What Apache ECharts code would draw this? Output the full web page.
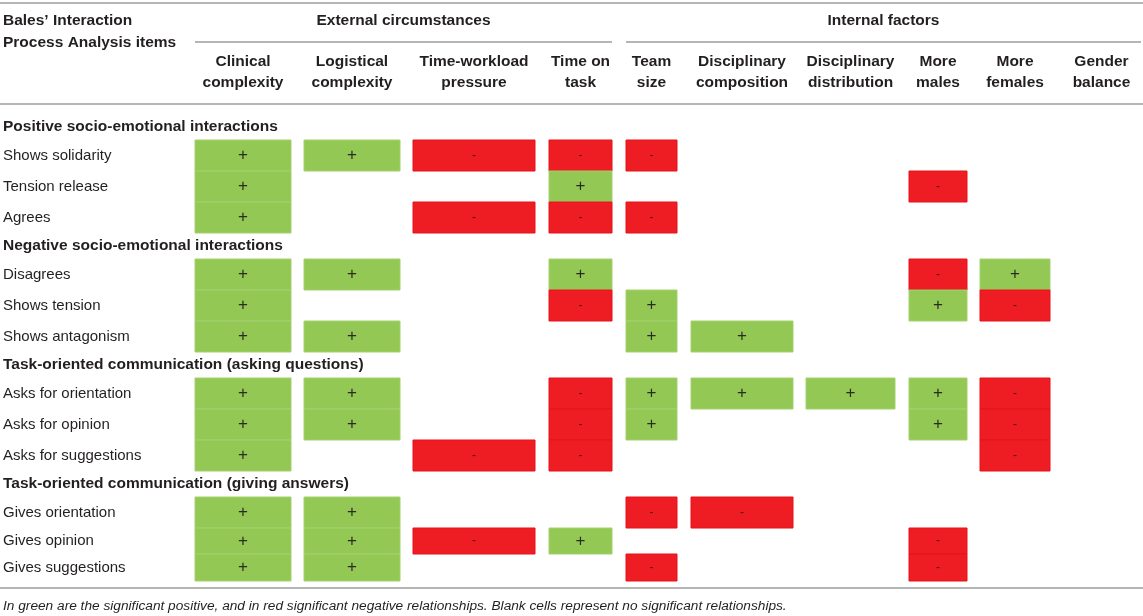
<!DOCTYPE html>
<html>
<head>
<meta charset="utf-8">
<script src="https://cdn.jsdelivr.net/npm/echarts@6/dist/echarts.min.js"></script>
<style>
  html, body { margin: 0; padding: 0; background: #fff; }
  #chart { width: 1143px; height: 616px; }
</style>
</head>
<body>
<div id="chart"></div>
<script>
// data
const columnNames = [
  ['Clinical', 'complexity'],
  ['Logistical', 'complexity'],
  ['Time-workload', 'pressure'],
  ['Time on', 'task'],
  ['Team', 'size'],
  ['Disciplinary', 'composition'],
  ['Disciplinary', 'distribution'],
  ['More', 'males'],
  ['More', 'females'],
  ['Gender', 'balance']
]
const columnGroups = ['External circumstances', 'Internal factors']

const rowGroups = [
  'Positive socio-emotional interactions',
  'Negative socio-emotional interactions',
  'Task-oriented communication (asking questions)',
  'Task-oriented communication (giving answers)'
]
const rowNames = [
  'Shows solidarity', 'Tension release', 'Agrees',
  'Disagrees', 'Shows tension', 'Shows antagonism',
  'Asks for orientation', 'Asks for opinion', 'Asks for suggestions',
  'Gives orientation', 'Gives opinion', 'Gives suggestions'
]
const rowGroupOf = [0, 0, 0, 1, 1, 1, 2, 2, 2, 3, 3, 3]

// 1 = significant positive, -1 = significant negative, 0 = blank
const signs = [
  [1, 1, -1, -1, -1, 0, 0, 0, 0, 0],
  [1, 0, 0, 1, 0, 0, 0, -1, 0, 0],
  [1, 0, -1, -1, -1, 0, 0, 0, 0, 0],
  [1, 1, 0, 1, 0, 0, 0, -1, 1, 0],
  [1, 0, 0, -1, 1, 0, 0, 1, -1, 0],
  [1, 1, 0, 0, 1, 1, 0, 0, 0, 0],
  [1, 1, 0, -1, 1, 1, 1, 1, -1, 0],
  [1, 1, 0, -1, 1, 0, 0, 1, -1, 0],
  [1, 0, -1, -1, 0, 0, 0, 0, -1, 0],
  [1, 1, 0, 0, -1, -1, 0, 0, 0, 0],
  [1, 1, -1, 1, 0, 0, 0, -1, 0, 0],
  [1, 1, 0, 0, -1, 0, 0, -1, 0, 0]
]

const titleLines = ['Bales\u2019 Interaction', 'Process Analysis items']
const footnote = 'In green are the significant positive, and in red significant negative relationships. Blank cells represent no significant relationships.'

// layout
const colLeft = [195, 304, 413, 549, 626, 691, 806, 909, 980, 1063]
const colRight = [291, 400, 535, 612, 677, 793, 895, 967, 1050, 1140]
const groupSpan = [[195, 612], [626, 1141]]
const tableTop = 104
const tableBottom = 588
const groupHeaderHeight = [36, 26, 26, 26]
const rowHeight = [31, 31, 31, 31, 31, 31, 31, 31, 31, 31, 26, 27]

const GREEN = '#92c853'
const RED = '#ee1d24'
const INK = '#231f20'
const RULE = '#b5b5b5'
const FONT = '"Liberation Sans", Arial, Helvetica, sans-serif'
const HEAD_FONT = 'bold 15.5px ' + FONT

// row top/bottom positions built from the layout
const rowTop = []
const rowBottom = []
const groupBottom = []
let cursor = tableTop
rowNames.forEach((name, i) => {
  const g = rowGroupOf[i]
  if (i === 0 || rowGroupOf[i - 1] !== g) {
    cursor += groupHeaderHeight[g]
    groupBottom[g] = cursor
  }
  rowTop.push(cursor)
  cursor += rowHeight[i]
  rowBottom.push(cursor)
})

const cellData = []
signs.forEach((row, r) => {
  row.forEach((v, c) => {
    if (v !== 0) cellData.push([c, r, v])
  })
})

const labelData = []
rowGroups.forEach((name, g) => labelData.push([g, 1, name]))
rowNames.forEach((name, r) => labelData.push([r, 0, name]))

const graphic = []
function hline(x1, x2, y) {
  graphic.push({
    type: 'line', silent: true,
    shape: { x1: x1, y1: y, x2: x2, y2: y },
    style: { stroke: RULE, lineWidth: 2 }
  })
}
function text(str, x, y, align, font) {
  graphic.push({
    type: 'text', silent: true, x: x, y: y,
    style: { text: str, fill: INK, font: font, align: align, verticalAlign: 'middle' }
  })
}
hline(0, 1143, 3)
hline(groupSpan[0][0], groupSpan[0][1], 42)
hline(groupSpan[1][0], groupSpan[1][1], 42)
hline(0, 1143, tableTop)
hline(0, 1143, tableBottom)
text(titleLines[0], 3, 21, 'left', HEAD_FONT)
text(titleLines[1], 3, 43, 'left', HEAD_FONT)
columnGroups.forEach((name, g) => {
  text(name, (groupSpan[g][0] + groupSpan[g][1]) / 2, 21, 'center', HEAD_FONT)
})
columnNames.forEach((lines, c) => {
  const cx = (colLeft[c] + colRight[c]) / 2
  text(lines[0], cx, 62, 'center', HEAD_FONT)
  text(lines[1], cx, 83, 'center', HEAD_FONT)
})
text(footnote, 3, 606, 'left', 'italic 13.7px ' + FONT)

const chart = echarts.init(document.getElementById('chart'))
chart.setOption({
  animation: false,
  backgroundColor: '#fff',
  grid: { left: 0, right: 0, top: 0, bottom: 0 },
  xAxis: { type: 'value', min: 0, max: 1143, show: false },
  yAxis: { type: 'value', min: 0, max: 616, inverse: true, show: false },
  graphic: graphic,
  series: [
    {
      type: 'custom',
      name: 'cells',
      data: cellData,
      renderItem: (params, api) => {
        const c = api.value(0)
        const r = api.value(1)
        const v = api.value(2)
        const p0 = api.coord([colLeft[c], rowTop[r]])
        const p1 = api.coord([colRight[c], rowBottom[r]])
        const pos = v > 0
        return {
          type: 'group',
          children: [
            {
              type: 'rect',
              shape: { x: p0[0], y: p0[1], width: p1[0] - p0[0], height: p1[1] - p0[1] },
              style: { fill: pos ? GREEN : RED, stroke: pos ? '#a3d16f' : '#e8131b', lineWidth: 1 }
            },
            {
              type: 'text',
              x: (p0[0] + p1[0]) / 2,
              y: (p0[1] + p1[1]) / 2,
              style: {
                text: pos ? '+' : '-',
                fill: pos ? '#2b2b22' : '#4a1515',
                font: (pos ? '17px ' : '12px ') + FONT,
                align: 'center',
                verticalAlign: 'middle'
              }
            }
          ]
        }
      }
    },
    {
      type: 'custom',
      name: 'labels',
      data: labelData,
      renderItem: (params, api) => {
        const i = api.value(0)
        const isGroup = api.value(1) === 1
        const item = labelData[params.dataIndex]
        const y = isGroup ? groupBottom[i] - 13 : (rowTop[i] + rowBottom[i]) / 2
        const p = api.coord([3, y])
        return {
          type: 'text',
          x: p[0],
          y: p[1],
          style: {
            text: item[2],
            fill: INK,
            font: isGroup ? HEAD_FONT : '15px ' + FONT,
            align: 'left',
            verticalAlign: 'middle'
          }
        }
      }
    }
  ]
})
</script>
</body>
</html>
